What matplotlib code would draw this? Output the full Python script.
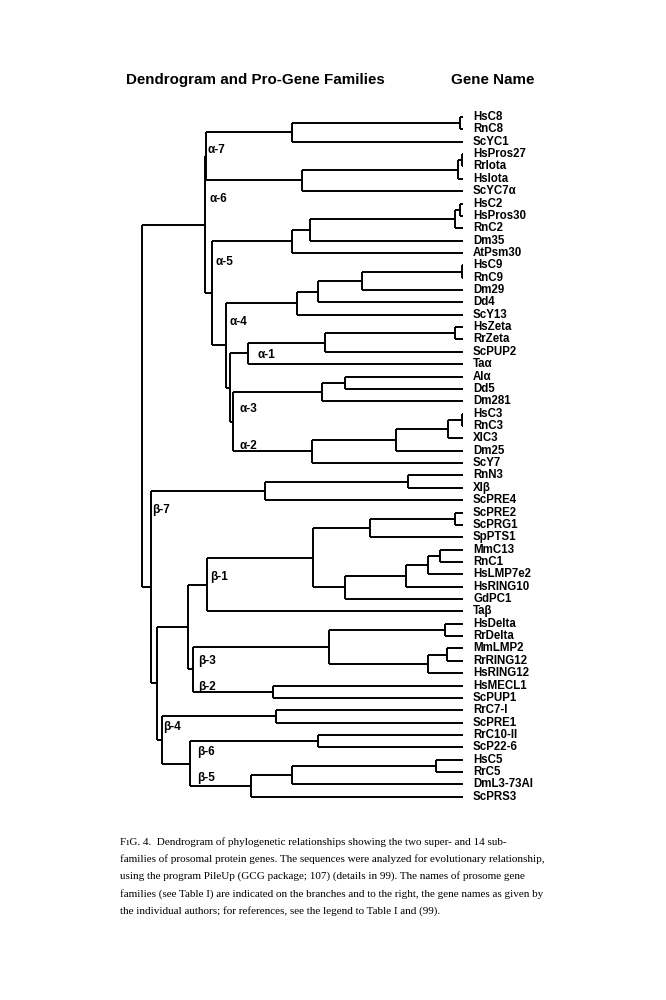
import matplotlib.pyplot as plt

# tree nodes: (x of the join, child, child, ...); leaves are names
alpha7 = (292, (460, "HsC8", "RnC8"), "ScYC1")
alpha6 = (302, (458, (462, "HsPros27", "RrIota"), "HsIota"), "ScYC7\u03b1")
alpha5 = (292, (310, (455, (460, "HsC2", "HsPros30"), "RnC2"), "Dm35"), "AtPsm30")
alpha4a = (297, (318, (362, (462, "HsC9", "RnC9"), "Dm29"), "Dd4"), "ScY13")
alpha1 = (248, (325, (455, "HsZeta", "RrZeta"), "ScPUP2"), "Ta\u03b1")
alpha3 = (322, (345, "Al\u03b1", "Dd5"), "Dm281")
alpha2 = (312, (396, (448, (462, "HsC3", "RnC3"), "XlC3"), "Dm25"), "ScY7")
alpha = (205, (205.5, alpha7, alpha6),
         (212, alpha5, (226, alpha4a, (230, alpha1, (233, alpha3, alpha2)))))

beta7 = (265, (408, "RnN3", "Xl\u03b2"), "ScPRE4")
beta1 = (207, (313, (370, (455, "ScPRE2", "ScPRG1"), "SpPTS1"),
               (345, (406, (428, (440, "MmC13", "RnC1"), "HsLMP7e2"), "HsRING10"), "GdPC1")),
         "Ta\u03b2")
beta3 = (329, (445, "HsDelta", "RrDelta"), (428, (447, "MmLMP2", "RrRING12"), "HsRING12"))
beta2 = (273, "HsMECL1", "ScPUP1")
beta4 = (276, "RrC7-I", "ScPRE1")
beta6 = (318, "RrC10-II", "ScP22-6")
beta5 = (251, (292, (436, "HsC5", "RrC5"), "DmL3-73Al"), "ScPRS3")
beta = (151, beta7, (157, (188, beta1, (193, beta3, beta2)),
                     (162, beta4, (190, beta6, beta5))))
tree = (142, alpha, beta)

families = ["\u03b1-7", "\u03b1-6", "\u03b1-5", "\u03b1-4", "\u03b1-1", "\u03b1-3", "\u03b1-2",
            "\u03b2-7", "\u03b2-1", "\u03b2-3", "\u03b2-2", "\u03b2-4", "\u03b2-6", "\u03b2-5"]
family_pos = [(208, 150), (210, 199), (216, 262), (230, 322), (258, 355), (240, 409), (240, 446),
              (152, 510), (210, 577), (198, 661), (198, 687), (163, 727), (197, 752), (197, 778)]

caption = [
    "F\u0131G. 4.  Dendrogram of phylogenetic relationships showing the two super- and 14 sub-",
    "families of prosomal protein genes. The sequences were analyzed for evolutionary relationship,",
    "using the program PileUp (GCG package; 107) (details in 99). The names of prosome gene",
    "families (see Table I) are indicated on the branches and to the right, the gene names as given by",
    "the individual authors; for references, see the legend to Table I and (99).",
]

LEAF_X = 463
Y0, DY = 117, 12.36

fig = plt.figure(figsize=(6.66, 10), dpi=100)
ax = fig.add_axes([0, 0, 1, 1])
ax.set_xlim(0, 666)
ax.set_ylim(1000, 0)
ax.axis("off")

leaves = []


def draw(node):
    if isinstance(node, str):
        y = Y0 + len(leaves) * DY
        leaves.append((node, y))
        return LEAF_X, y
    x = node[0]
    ys = []
    for child in node[1:]:
        cx, cy = draw(child)
        ax.plot([x, cx], [cy, cy], color="black", lw=1.4, solid_capstyle="butt")
        ys.append(cy)
    ax.plot([x, x], [min(ys), max(ys)], color="black", lw=1.4, solid_capstyle="butt")
    return x, (min(ys) + max(ys)) / 2


rx, ry = draw(tree)

for name, y in leaves:
    ax.text(473, y, name, fontsize=8.3, fontweight="bold", family="Liberation Sans",
            va="center", ha="left")

for lab, (x, y) in zip(families, family_pos):
    ax.text(x, y, lab, fontsize=8.5, fontweight="bold", family="Liberation Sans",
            va="center", ha="left")

ax.text(126, 80, "Dendrogram and Pro-Gene Families", fontsize=10.9, fontweight="bold",
        family="Liberation Sans", va="center")
ax.text(451, 80, "Gene Name", fontsize=10.9, fontweight="bold", family="Liberation Sans",
        va="center")

for i, line in enumerate(caption):
    ax.text(120, 842 + i * 17.2, line, fontsize=8.05, family="Liberation Serif", va="center")

fig.savefig("out.png", dpi=100)
